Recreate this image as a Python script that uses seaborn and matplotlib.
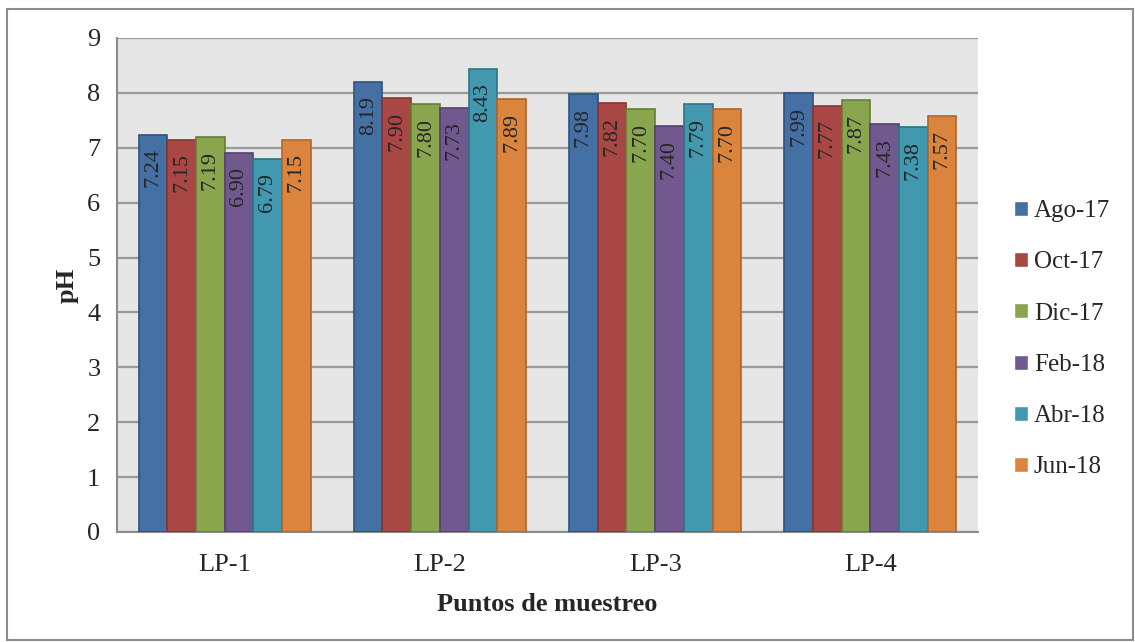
import matplotlib
matplotlib.use('Agg')
from matplotlib import pyplot as plt
from matplotlib.patches import Rectangle
import numpy as np
import pandas as pd
import seaborn as sns

# --
# Data

points = ['LP-1', 'LP-2', 'LP-3', 'LP-4']
campaigns = ['Ago-17', 'Oct-17', 'Dic-17', 'Feb-18', 'Abr-18', 'Jun-18']

ago_17 = [7.24, 8.19, 7.98, 7.99]
oct_17 = [7.15, 7.90, 7.82, 7.77]
dic_17 = [7.19, 7.80, 7.70, 7.87]
feb_18 = [6.90, 7.73, 7.40, 7.43]
abr_18 = [6.79, 8.43, 7.79, 7.38]
jun_18 = [7.15, 7.89, 7.70, 7.57]

colors = ['#4470A4', '#A94744', '#89A54E', '#71588F', '#4198AF', '#DB843D']
edges = ['#2F5382', '#843532', '#667D38', '#55406E', '#2E7487', '#B0652A']

series = [ago_17, oct_17, dic_17, feb_18, abr_18, jun_18]
df = pd.DataFrame({
    'punto': points * len(campaigns),
    'campana': np.repeat(campaigns, len(points)),
    'ph': np.concatenate(series),
})

# --
# Plot

sns.set_style('white')
plt.rcParams['font.family'] = ['Liberation Serif', 'DejaVu Serif']

fig = plt.figure(figsize=(11.35, 6.42), dpi=100)
ax = fig.add_axes([117 / 1135, 1 - 532 / 642, 861 / 1135, 494 / 642])
ax.set_facecolor('#E6E6E6')

sns.barplot(data=df, x='punto', y='ph', hue='campana', order=points,
            hue_order=campaigns, palette=colors, width=0.8, ax=ax,
            saturation=1, errorbar=None, zorder=3)

for cont, ec in zip(ax.containers, edges):
    for p in cont:
        p.set_edgecolor(ec)
        p.set_linewidth(1.2)
        h = p.get_height()
        ax.annotate('%.2f' % h, (p.get_x() + p.get_width() / 2, h),
                    xytext=(0, -10), textcoords='offset points',
                    rotation=90, ha='center', va='top', fontsize=16, zorder=4)

ax.set_ylim(0, 9)
ax.set_xlim(-0.5, len(points) - 0.5)
ax.set_yticks(range(10))
ax.yaxis.grid(True, color='#9A9A9A', linewidth=1.6, zorder=0)
ax.set_axisbelow(True)

ax.set_xticks(np.arange(-0.5, len(points)), minor=True)
ax.tick_params(axis='x', which='major', length=0, pad=16, labelsize=19)
ax.tick_params(axis='x', which='minor', length=8, color='#8C8C8C', width=1.5)
ax.tick_params(axis='y', length=8, color='#8C8C8C', width=1.5, labelsize=19, pad=4)

for s in ['top', 'right']:
    ax.spines[s].set_visible(False)
for s in ['left', 'bottom']:
    ax.spines[s].set_color('#8C8C8C')
    ax.spines[s].set_linewidth(1.5)

ax.set_xlabel('Puntos de muestreo', fontsize=19, fontweight='bold', labelpad=12)
ax.set_ylabel('pH', fontsize=19, fontweight='bold', labelpad=6)

handles, labels = ax.get_legend_handles_labels()
ax.legend(handles, labels, loc='center left', bbox_to_anchor=(1.03, 0.39),
          frameon=False, fontsize=18, handlelength=0.55, handleheight=0.55,
          handletextpad=0.25, labelspacing=1.17, borderaxespad=0)

fig.patches.append(Rectangle((7 / 1135, 2 / 642), 1126 / 1135, 631 / 642,
                             transform=fig.transFigure, fill=False,
                             edgecolor='#8C8C8C', linewidth=1.5))

plt.savefig('out.png', dpi=100)
plt.close()
